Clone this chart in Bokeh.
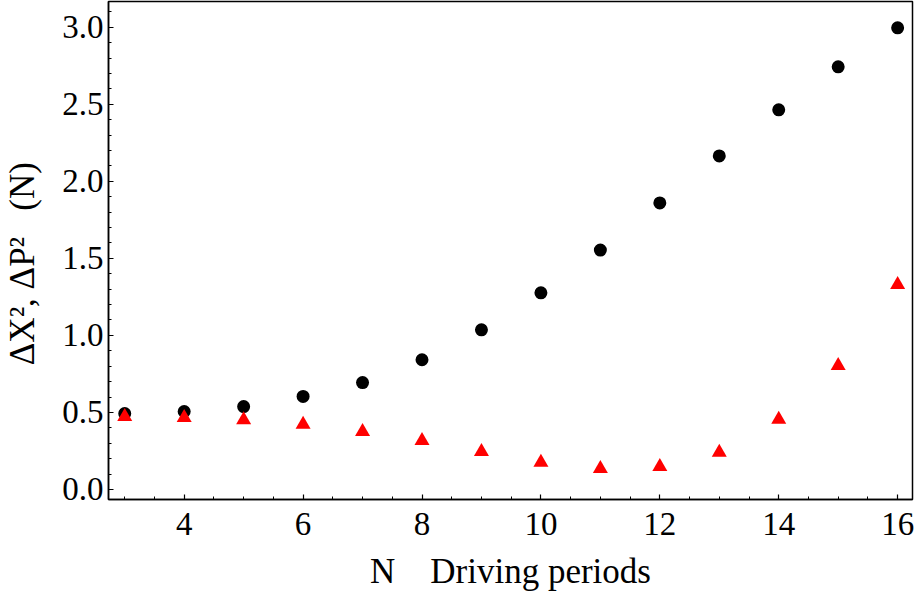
from bokeh.plotting import figure
from bokeh.models import FixedTicker, PrintfTickFormatter, Range1d, ColumnDataSource
from bokeh.embed import file_html
from bokeh.resources import INLINE

# ---- data ----
n_periods = [3, 4, 5, 6, 7, 8, 9, 10, 11, 12, 13, 14, 15, 16]
dx2 = [0.493, 0.506, 0.538, 0.604, 0.694, 0.842, 1.036, 1.276, 1.554, 1.860, 2.165, 2.464, 2.743, 2.996]
dp2 = [0.472, 0.466, 0.452, 0.422, 0.376, 0.317, 0.246, 0.175, 0.135, 0.148, 0.240, 0.454, 0.804, 1.330]

x_major_ticks = [4, 6, 8, 10, 12, 14, 16]
x_minor_ticks = [3.0, 3.5, 4.0, 4.5, 5.0, 5.5, 6.0, 6.5, 7.0, 7.5, 8.0, 8.5, 9.0, 9.5, 10.0,
                 10.5, 11.0, 11.5, 12.0, 12.5, 13.0, 13.5, 14.0, 14.5, 15.0, 15.5, 16.0]
y_major_ticks = [0.0, 0.5, 1.0, 1.5, 2.0, 2.5, 3.0]
y_minor_ticks = [0.0, 0.1, 0.2, 0.3, 0.4, 0.5, 0.6, 0.7, 0.8, 0.9, 1.0, 1.1, 1.2, 1.3, 1.4, 1.5,
                 1.6, 1.7, 1.8, 1.9, 2.0, 2.1, 2.2, 2.3, 2.4, 2.5, 2.6, 2.7, 2.8, 2.9, 3.0, 3.1]

x_label = "N\u00a0\u00a0\u00a0\u00a0Driving periods"
y_label = "\u0394X\u00b2, \u0394P\u00b2\u00a0\u00a0\u00a0(N)\u00a0\u00a0\u00a0"

FONT = "Liberation Serif"

src = ColumnDataSource(dict(n=n_periods, dx2=dx2, dp2=dp2))

p = figure(width=917, height=599, output_backend="svg", toolbar_location=None,
           x_range=Range1d(2.727, 16.25), y_range=Range1d(-0.065, 3.167),
           min_border_left=105, min_border_right=5, min_border_top=1, min_border_bottom=100)

p.background_fill_color = "white"
p.border_fill_color = "white"
p.outline_line_color = "black"
p.outline_line_width = 1.5
p.xgrid.visible = False
p.ygrid.visible = False

p.scatter("n", "dx2", source=src, marker="circle", size=13, fill_color="black", line_color=None)
p.scatter("n", "dp2", source=src, marker="triangle", size=15, fill_color="red", line_color=None)

for ax in (p.xaxis[0], p.yaxis[0]):
    ax.axis_line_color = "black"
    ax.axis_line_width = 1.5
    ax.major_tick_line_color = "black"
    ax.minor_tick_line_color = "black"
    ax.major_tick_line_width = 1.2
    ax.minor_tick_line_width = 1.0
    ax.major_tick_in = 5
    ax.major_tick_out = 0
    ax.minor_tick_in = 3
    ax.minor_tick_out = 0
    ax.major_label_text_font = FONT
    ax.major_label_text_font_size = "33px"
    ax.major_label_text_color = "black"
    ax.axis_label_text_font = FONT
    ax.axis_label_text_font_size = "35px"
    ax.axis_label_text_font_style = "normal"
    ax.axis_label_text_color = "black"

p.xaxis[0].ticker = FixedTicker(ticks=x_major_ticks, minor_ticks=x_minor_ticks)
p.yaxis[0].ticker = FixedTicker(ticks=y_major_ticks, minor_ticks=y_minor_ticks)
p.yaxis[0].formatter = PrintfTickFormatter(format="%.1f")
p.xaxis[0].major_label_standoff = 13
p.yaxis[0].major_label_standoff = 5
p.xaxis[0].axis_label = x_label
p.yaxis[0].axis_label = y_label
p.xaxis[0].axis_label_standoff = 14
p.yaxis[0].axis_label_standoff = 17

open("out.html", "w").write(file_html(p, INLINE))
